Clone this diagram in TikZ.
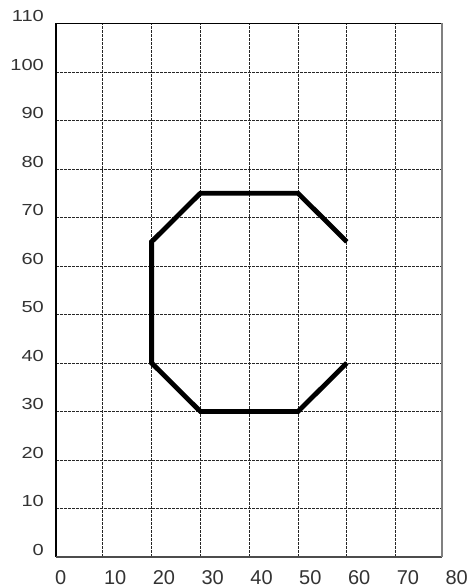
\documentclass[tikz,border=0pt]{standalone}
\usepackage{fontspec}
\setmainfont{Liberation Sans}
\begin{document}
\begin{tikzpicture}[x=4.88pt,y=4.85pt,
  gridline/.style={black!85,line width=0.8pt,dash pattern=on 2.6pt off 1.4pt},
  frameline/.style={black,line width=1.1pt},
  outline/.style={black,line width=4.8pt,line join=miter,line cap=butt},
  ylab/.style={anchor=base east,inner sep=0pt,font=\fontsize{20}{20}\selectfont,text=black!80,xshift=-10pt,yshift=1.5pt},
  xlab/.style={anchor=base west,inner sep=0pt,font=\fontsize{20}{20}\selectfont,text=black!80,xshift=1pt,yshift=-27pt}]
\useasboundingbox (-54pt,-31pt) rectangle (415pt,557pt);
\fill[white] (-54pt,-31pt) rectangle (415pt,557pt);
% grid
\foreach \x in {10,20,...,70} \draw[gridline] (\x,0) -- (\x,110);
\foreach \y in {10,20,...,100} \draw[gridline] (0.4,\y) -- (79.5,\y);
% frame
\draw[frameline] (0.4,110) -- (0.4,0);
\draw[frameline,black!70] (0.4,0) -- (79.5,0);
\draw[frameline] (0.4,110) -- (79.5,110);
\draw[black!50,line width=1.6pt] (79.5,110) -- (79.5,0);
% labels
\foreach \y in {0,10,...,110} \node[ylab] (y\y) at (0,\y) {\scalebox{1}[0.8]{\y}};
\foreach \x in {0,10,...,80} \node[xlab] (x\x) at (\x,0) {\x};
% polyline
\coordinate (p1) at (60,65);
\coordinate (p2) at (50,75);
\coordinate (p3) at (30,75);
\coordinate (p4) at (20,65);
\coordinate (p5) at (20,40);
\coordinate (p6) at (30,30);
\coordinate (p7) at (50,30);
\coordinate (p8) at (60,40);
\draw[outline] (p1) -- (p2) -- (p3) -- (p4) -- (p5) -- (p6) -- (p7) -- (p8);
\end{tikzpicture}
\end{document}
